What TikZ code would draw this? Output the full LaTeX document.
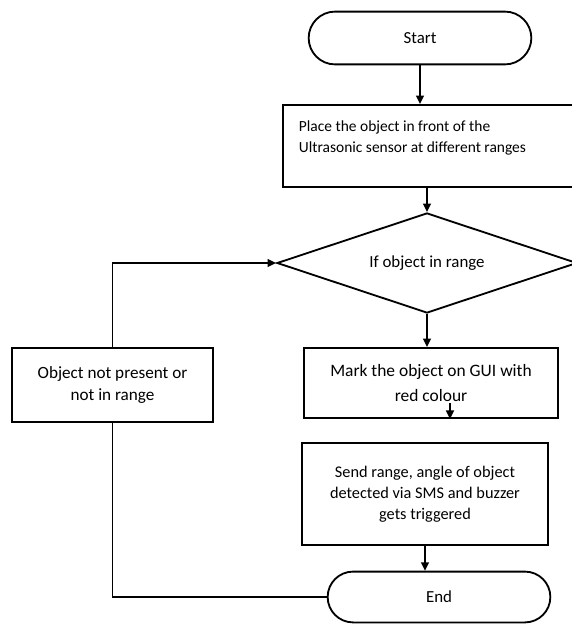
\documentclass[tikz,border=0pt]{standalone}
\usepackage{fontspec}
\setmainfont{Carlito}
\usetikzlibrary{shapes.misc,shapes.geometric,arrows.meta,calc}

\begin{document}
\begin{tikzpicture}[x=0.025cm,y=-0.025cm,line width=1.3pt,
  >={Triangle[length=6pt,width=5.5pt]},
  font=\fontsize{12}{15}\selectfont,
  term/.style={draw,rounded rectangle,minimum width=5.8cm,minimum height=1.32cm},
  stepbox/.style={draw,rectangle,align=center,inner sep=2pt},
  decision/.style={draw,diamond,aspect=3,inner sep=0pt,minimum width=7.5cm,minimum height=2.5cm}]
  \useasboundingbox (0,0) rectangle (572,625);
  \clip (0,0) rectangle (572,625);
  \node[term] (start) at (420,38) {Start};
  \node[stepbox,anchor=north west,inner xsep=0.4cm,inner ysep=0.4cm,font=\fontsize{11}{15}\selectfont] (place) at (282,104)
    {\parbox[c][1.25cm][t]{6.9cm}{\raggedright Place the object in front of the\\Ultrasonic sensor at different ranges}};
  \node[decision] (cond) at (427,263) {If object in range};
  \node[stepbox,minimum width=5.025cm,minimum height=1.85cm,font=\fontsize{12.2}{15.4}\selectfont] (absent) at (112.5,385)
    {Object not present or\\not in range};
  \node[stepbox,minimum width=6.35cm,minimum height=1.75cm,font=\fontsize{12.4}{17.5}\selectfont] (mark) at (431,383)
    {Mark the object on GUI with\\red colour};
  \node[stepbox,minimum width=6.15cm,minimum height=2.55cm,font=\fontsize{11.6}{14.8}\selectfont] (send) at (425,494)
    {Send range, angle of object\\detected via SMS and buzzer\\gets triggered};
  \node[term,minimum height=1.27cm] (end) at (439,597) {End};
  \draw[->] (start.south) -- (start.south |- place.north);
  \draw[->] (place.south -| cond.north) -- (cond.north);
  \draw[->] (cond.south) -- (cond.south |- mark.north);
  \draw[->] ($(mark.south)+(19,-16)$) -- ($(mark.south)+(19,0)$);
  \draw[->] (send.south) -- (send.south |- end.north);
  \draw[->] (absent.north) |- (cond.west);
  \draw (absent.south) |- (end.west);
\end{tikzpicture}
\end{document}
